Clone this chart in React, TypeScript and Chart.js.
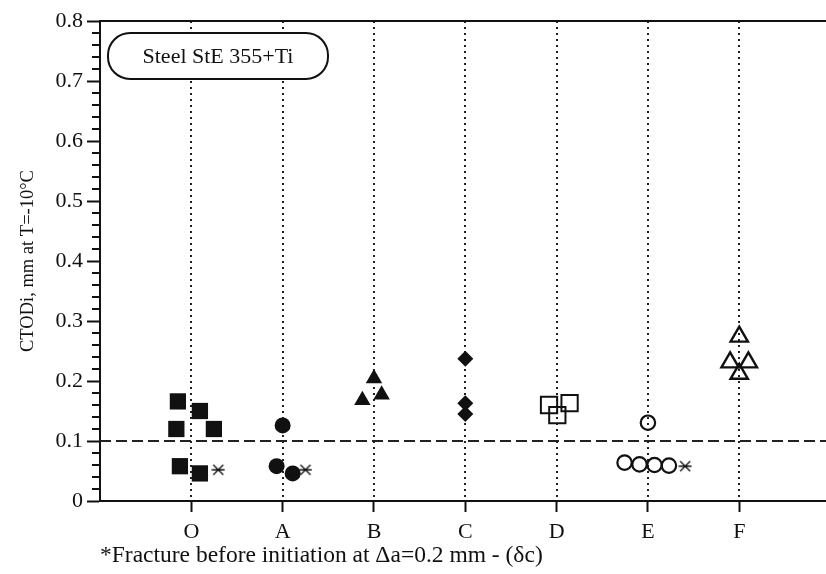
import React, { useEffect, useRef } from 'react';
import { Chart, registerables } from 'chart.js';

Chart.register(...registerables);

// ---- data ----
const categories = ['O', 'A', 'B', 'C', 'D', 'E', 'F'];
const yTickValues = [0, 0.1, 0.2, 0.3, 0.4, 0.5, 0.6, 0.7, 0.8];
const referenceLevel = 0.1;
const legendText = 'Steel StE 355+Ti';
const yTitle = 'CTODi, mm at T=-10°C';
const footnote = '*Fracture before initiation at \u0394a=0.2 mm - (\u03b4c)';

// offsets along the category axis (jitter) and CTODi values
const O_off = [-0.147, 0.094, -0.164, 0.247, -0.125, 0.094];
const O_val = [0.166, 0.15, 0.12, 0.12, 0.058, 0.046];
const A_off = [0, -0.066, 0.11];
const A_val = [0.126, 0.058, 0.046];
const B_off = [0, 0.084, -0.127];
const B_val = [0.204, 0.177, 0.168];
const C_off = [0, 0, 0];
const C_val = [0.237, 0.163, 0.145];
const D_off = [-0.083, 0.008, 0.142];
const D_val = [0.16, 0.143, 0.163];
const E_off = [0, -0.256, -0.092, 0.072, 0.23];
const E_val = [0.1305, 0.064, 0.061, 0.06, 0.059];
const F_off = [0, -0.1, 0.1, 0];
const F_val = [0.274, 0.231, 0.231, 0.212];
const star_cat = [0, 1, 5];
const star_off = [0.295, 0.25, 0.408];
const star_val = [0.052, 0.052, 0.058];

const pts = (cat: number, offs: number[], vals: number[]) =>
  offs.map((o, i) => ({ x: cat + 1 + o, y: vals[i] }));

const INK = '#111';
const SERIF = '"Liberation Serif", "DejaVu Serif", serif';

function makeAsterisk(): HTMLCanvasElement {
  const c = document.createElement('canvas');
  c.width = 14;
  c.height = 14;
  const g = c.getContext('2d')!;
  g.strokeStyle = '#111';
  g.lineWidth = 1.4;
  g.beginPath();
  g.moveTo(2, 2);
  g.lineTo(12, 12);
  g.moveTo(12, 2);
  g.lineTo(2, 12);
  g.moveTo(0.5, 7);
  g.lineTo(13.5, 7);
  g.stroke();
  return c;
}

const decor = {
  id: 'decor',
  beforeDatasetsDraw(chart: any) {
    const { ctx, chartArea: a, scales } = chart;
    const x = scales.x;
    const y = scales.y;
    ctx.save();
    // dotted verticals at categories
    ctx.strokeStyle = '#222';
    ctx.lineWidth = 2;
    ctx.setLineDash([2, 4]);
    categories.forEach((_, i) => {
      const px = Math.round(x.getPixelForValue(i + 1));
      ctx.beginPath();
      ctx.moveTo(px, a.top);
      ctx.lineTo(px, a.bottom);
      ctx.stroke();
    });
    // dashed reference line
    ctx.setLineDash([11, 5]);
    const py = Math.round(y.getPixelForValue(referenceLevel));
    ctx.beginPath();
    ctx.moveTo(a.left, py);
    ctx.lineTo(a.right, py);
    ctx.stroke();
    // top border
    ctx.setLineDash([]);
    ctx.strokeStyle = INK;
    ctx.beginPath();
    ctx.moveTo(a.left, a.top);
    ctx.lineTo(a.right, a.top);
    ctx.stroke();
    // legend pill
    const bx = a.left + 8, by = a.top + 12, bw = 220, bh = 46;
    ctx.beginPath();
    (ctx as any).roundRect(bx, by, bw, bh, 22);
    ctx.fillStyle = '#fff';
    ctx.fill();
    ctx.lineWidth = 2;
    ctx.stroke();
    ctx.fillStyle = INK;
    ctx.font = `22px ${SERIF}`;
    ctx.textAlign = 'center';
    ctx.textBaseline = 'middle';
    ctx.fillText(legendText, bx + bw / 2, by + bh / 2 + 1);
    ctx.restore();
  },
  afterDraw(chart: any) {
    const { ctx, chartArea: a, scales } = chart;
    const y = scales.y;
    ctx.save();
    ctx.strokeStyle = INK;
    ctx.lineWidth = 2;
    for (let k = 0; k <= 40; k++) {
      if (k % 5 === 0) continue;
      const py = Math.round(y.getPixelForValue(k * 0.02));
      ctx.beginPath();
      ctx.moveTo(a.left - 8, py);
      ctx.lineTo(a.left, py);
      ctx.stroke();
    }
    ctx.fillStyle = INK;
    ctx.font = `23.5px ${SERIF}`;
    ctx.textAlign = 'left';
    ctx.textBaseline = 'alphabetic';
    ctx.fillText(footnote, a.left, 562);
    ctx.restore();
  },
};

export default function App() {
  const ref = useRef<HTMLCanvasElement>(null);
  useEffect(() => {
    if (!ref.current) return;
    const asterisk = makeAsterisk();
    const filled = (style: string, r: number) => ({
      pointStyle: style,
      pointRadius: r,
      pointHoverRadius: r,
      backgroundColor: INK,
      borderColor: INK,
      borderWidth: 0,
    });
    const open = (style: string, r: number, w: number) => ({
      pointStyle: style,
      pointRadius: r,
      pointHoverRadius: r,
      backgroundColor: 'rgba(0,0,0,0)',
      borderColor: INK,
      borderWidth: w,
    });
    const chart = new Chart(ref.current, {
      type: 'scatter',
      data: {
        datasets: [
          { label: 'O', data: pts(0, O_off, O_val), ...filled('rect', 11.5) },
          { label: 'A', data: pts(1, A_off, A_val), ...filled('circle', 8) },
          { label: 'B', data: pts(2, B_off, B_val), ...filled('triangle', 9.5) },
          { label: 'C', data: pts(3, C_off, C_val), ...filled('rectRot', 8) },
          { label: 'D', data: pts(4, D_off, D_val), ...open('rect', 11.5, 2) },
          { label: 'E', data: pts(5, E_off, E_val), ...open('circle', 7.2, 2.2) },
          { label: 'F', data: pts(6, F_off, F_val), ...open('triangle', 10, 2.4) },
          {
            label: '*',
            data: star_cat.map((c, i) => ({ x: c + 1 + star_off[i], y: star_val[i] })),
            pointStyle: asterisk,
            pointRadius: 6,
            pointHoverRadius: 6,
            borderColor: '#111',
            backgroundColor: '#111',
            borderWidth: 1.2,
          },
        ] as any,
      },
      options: {
        animation: false,
        responsive: false,
        events: [],
        layout: { autoPadding: false, padding: { top: 21, left: 0, right: 0, bottom: 0 } },
        plugins: { legend: { display: false }, tooltip: { enabled: false } },
        scales: {
          x: {
            type: 'linear',
            min: 0,
            max: 7.95,
            afterBuildTicks: (s: any) => {
              s.ticks = categories.map((_, i) => ({ value: i + 1 }));
            },
            afterFit: (s: any) => {
              s.height = 73;
              s.paddingLeft = 0;
              s.paddingRight = 0;
            },
            ticks: {
              autoSkip: false,
              maxRotation: 0,
              padding: 7,
              color: INK,
              font: { family: SERIF, size: 22 },
              callback: (v: any) => categories[Math.round(v) - 1] ?? '',
            },
            grid: {
              drawOnChartArea: false,
              drawTicks: true,
              tickLength: 11,
              tickWidth: 2,
              tickColor: INK,
              color: INK,
            },
            border: { display: true, color: INK, width: 2 },
          },
          y: {
            type: 'linear',
            min: 0,
            max: 0.8,
            afterBuildTicks: (s: any) => {
              s.ticks = yTickValues.map((v) => ({ value: v }));
            },
            afterFit: (s: any) => {
              s.width = 100;
            },
            ticks: {
              padding: 4,
              color: INK,
              font: { family: SERIF, size: 22 },
              callback: (v: any) => (v === 0 ? '0' : Number(v).toFixed(1)),
            },
            grid: {
              drawOnChartArea: false,
              drawTicks: true,
              tickLength: 13,
              tickWidth: 2,
              tickColor: INK,
              color: INK,
            },
            border: { display: true, color: INK, width: 2 },
            title: {
              display: true,
              text: yTitle,
              color: INK,
              font: { family: SERIF, size: 18.5 },
              padding: { top: 17, bottom: 0 },
            },
          },
        },
      } as any,
      plugins: [decor],
    });
    return () => chart.destroy();
  }, []);
  return (
    <canvas
      ref={ref}
      width={826}
      height={574}
      style={{ position: 'absolute', left: 0, top: 0, display: 'block' }}
    />
  );
}
